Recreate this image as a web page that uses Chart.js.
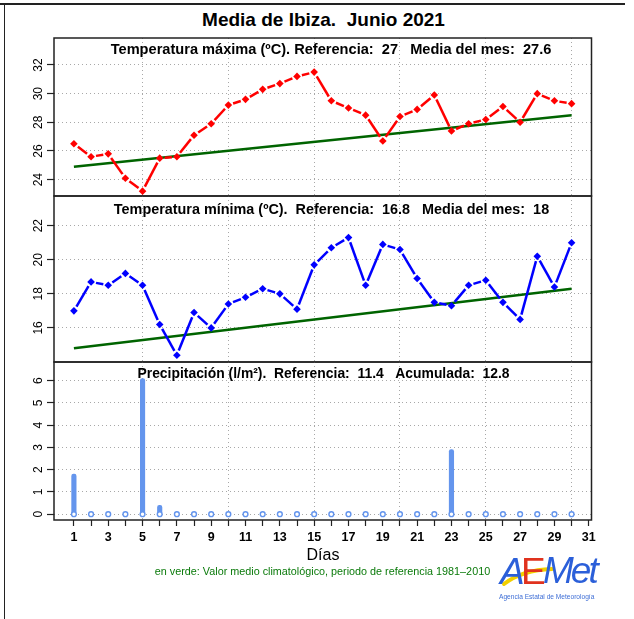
<!DOCTYPE html>
<html lang="es">
<head>
  <meta charset="UTF-8">
  <title>Media de Ibiza. Junio 2021</title>
  <style>
    body {
      margin: 0;
      background: #fff;
      font-family: "Liberation Sans", Arial, sans-serif;
      color: #000;
    }
    #page {
      position: relative;
      width: 634px;
      height: 619px;
      overflow: hidden;
    }
    .hline { position: absolute; left: 0; top: 3px; width: 625px; height: 1.5px; background: #222; }
    .vline { position: absolute; left: 3.5px; top: 3px; width: 1.5px; height: 620px; background: #222; }
    canvas { position: absolute; left: 0; }
    #title {
      position: absolute; top: 9px; left: 0; width: 647px;
      text-align: center; font-weight: bold; font-size: 19px; line-height: 22px;
    }
    #xlabel {
      position: absolute; top: 546px; left: 0; width: 646px;
      text-align: center; font-size: 16px; line-height: 18px;
    }
    #note {
      position: absolute; top: 565px; left: 0; width: 645px;
      text-align: center; font-size: 10.8px; line-height: 13px; color: #0a7a0a;
    }
    .logo { position: absolute; font-style: italic; font-size: 37px; line-height: 40px; }
    #logoSmall {
      position: absolute; left: 499px; top: 593px; font-size: 6.6px; color: #3f6fd6; white-space: nowrap;
    }
  </style>
  <script src="https://cdn.jsdelivr.net/npm/chart.js"></script>
</head>
<body>
<div id="page">
  <div class="hline"></div>
  <div class="vline"></div>
  <div id="title">Media de Ibiza.&nbsp; Junio 2021</div>
  <canvas id="cMax" width="634" height="170" style="top:30px"></canvas>
  <canvas id="cMin" width="634" height="180" style="top:190px"></canvas>
  <canvas id="cPre" width="634" height="200" style="top:355px"></canvas>
  <div id="xlabel">Días</div>
  <div id="note">en verde: Valor medio climatológico, periodo de referencia 1981–2010</div>
  <svg style="position:absolute;left:500px;top:560px" width="60" height="30">
    <path d="M4 24 Q22 10 52 9" stroke="#f2cf00" stroke-width="4" fill="none" stroke-linecap="round"/>
  </svg>
  <div class="logo" style="left:500px;top:552px;color:#2b5fd9">A</div>
  <div class="logo" style="left:521px;top:552px;color:#e0321e;font-style:normal">E</div>
  <div class="logo" style="left:543px;top:551px;color:#2b5fd9;letter-spacing:-3px">Met</div>
  <div id="logoSmall">Agencia Estatal de Meteorología</div>
</div>
<script>
  // days of the month
  const days = [1,2,3,4,5,6,7,8,9,10,11,12,13,14,15,16,17,18,19,20,21,22,23,24,25,26,27,28,29,30];
  // temperatura maxima (ºC)
  const tmax = [26.5,25.6,25.8,24.1,23.2,25.5,25.6,27.1,27.9,29.2,29.6,30.3,30.7,31.2,31.5,
                29.5,29.0,28.5,26.7,28.4,28.9,29.9,27.4,27.9,28.2,29.1,28.0,30.0,29.5,29.3];
  // temperatura minima (ºC)
  const tmin = [17.0,18.7,18.5,19.2,18.5,16.2,14.4,16.9,16.0,17.4,17.8,18.3,18.0,17.1,19.7,
                20.7,21.3,18.5,20.9,20.6,18.9,17.5,17.3,18.5,18.8,17.5,16.5,20.2,18.4,21.0];
  // precipitacion (l/m2)
  const precip = [1.8,0,0,0,6.1,0.4,0,0,0,0,0,0,0,0,0,0,0,0,0,0,0,0,2.9,0,0,0,0,0,0,0];
  // climatological reference (green lines), start and end of month
  const climaDays = [1, 30];
  const climaMax = [24.9, 28.5];
  const climaMin = [14.8, 18.3];
  // ticks
  const maxTicks = [24, 26, 28, 30, 32];
  const minTicks = [16, 18, 20, 22];
  const preTicks = [0, 1, 2, 3, 4, 5, 6];
  const gridDays = [5, 10, 15, 20, 25, 30];
  const tickDays = [1,2,3,4,5,6,7,8,9,10,11,12,13,14,15,16,17,18,19,20,21,22,23,24,25,26,27,28,29,30,31];

  const FONT = '"Liberation Sans", Arial, sans-serif';
  const GRID = '#a8a8a8';

  const pts = (xs, ys) => xs.map((x, i) => ({x: x, y: ys[i]}));

  // R type="b": line segments stop short of each point
  // (dash cycle is exactly the segment length so merged segments stay in phase)
  const gapDash = ctx => {
    const L = Math.hypot(ctx.p1.x - ctx.p0.x, ctx.p1.y - ctx.p0.y);
    const g = 5;
    if (L <= 2 * g) return [0, L];
    return [0, g, L - 2 * g, g];
  };

  const panelPlugin = {
    id: 'panel',
    afterDraw(chart, args, opts) {
      const {ctx, chartArea: a} = chart;
      const y = chart.scales.y;
      ctx.save();
      ctx.strokeStyle = '#222';
      ctx.lineWidth = 1.5;
      ctx.strokeRect(a.left, a.top, a.right - a.left, a.bottom - a.top);
      ctx.fillStyle = '#000';
      ctx.textAlign = 'center';
      ctx.textBaseline = 'middle';
      ctx.font = '12px ' + FONT;
      y.ticks.forEach(t => {
        ctx.save();
        ctx.translate(a.left - 15, y.getPixelForValue(t.value));
        ctx.rotate(-Math.PI / 2);
        ctx.fillText(String(t.value), 0, 0);
        ctx.restore();
      });
      ctx.font = 'bold ' + opts.size + 'px ' + FONT;
      ctx.fillText(opts.text, opts.cx, a.top + opts.dy);
      ctx.restore();
    }
  };

  function xScale(bottom) {
    const s = {
      type: 'linear', min: -0.16, max: 31.16, offset: false,
      afterBuildTicks: sc => { sc.ticks = (bottom ? tickDays : gridDays).map(v => ({value: v})); },
      grid: {
        offset: false, lineWidth: 1,
        color: c => (c.tick && c.tick.value % 5 === 0) ? GRID : 'rgba(0,0,0,0)',
        drawTicks: bottom, tickLength: 6, tickColor: '#222', tickWidth: 1.2, tickBorderDash: []
      },
      border: { display: false, dash: [1, 3] },
      ticks: { display: false }
    };
    if (bottom) {
      s.ticks = {
        display: true, autoSkip: false, maxRotation: 0, minRotation: 0, padding: 4,
        color: '#000', font: { family: FONT, size: 12.5, weight: 'bold' },
        callback: v => (v % 2 === 1 ? String(v) : '')
      };
      s.afterFit = sc => { sc.height = 35; };
    } else {
      s.afterFit = sc => { sc.height = 0; };
    }
    return s;
  }

  function yScale(min, max, ticks) {
    return {
      min: min, max: max,
      afterBuildTicks: sc => { sc.ticks = ticks.map(v => ({value: v})); },
      ticks: { display: false },
      grid: { color: GRID, lineWidth: 1, drawTicks: true, tickLength: 7, tickColor: '#222', tickWidth: 1.2, tickBorderDash: [] },
      border: { display: false, dash: [1, 3] },
      afterFit: sc => { sc.width = 54; }
    };
  }

  function baseOptions(pad, yS, bottom, title) {
    return {
      responsive: false,
      animation: false,
      layout: { padding: { left: 0, right: 42.5, top: pad[0], bottom: pad[1] } },
      plugins: { legend: { display: false }, tooltip: { enabled: false }, panel: title },
      scales: { x: xScale(bottom), y: yS }
    };
  }

  function tempChart(id, values, clima, color, yS, pad, title) {
    return new Chart(document.getElementById(id), {
      type: 'line',
      data: {
        datasets: [
          {
            data: pts(days, values),
            borderColor: color, borderWidth: 2.5,
            pointStyle: 'rectRot', pointRadius: 3.8, pointBorderWidth: 0,
            pointBackgroundColor: color,
            segment: { borderDash: gapDash }
          },
          {
            data: pts(climaDays, clima),
            borderColor: '#006400', borderWidth: 2.5, pointRadius: 0
          }
        ]
      },
      options: baseOptions(pad, yS, false, title),
      plugins: [panelPlugin]
    });
  }

  tempChart('cMax', tmax, climaMax, '#ff0000', yScale(22.86, 33.88, maxTicks), [8, 4],
    { text: 'Temperatura máxima (ºC). Referencia:  27   Media del mes:  27.6', cx: 331, dy: 12, size: 14.6 });

  tempChart('cMin', tmin, climaMin, '#0000ff', yScale(14.0, 23.74, minTicks), [6, 8],
    { text: 'Temperatura mínima (ºC).  Referencia:  16.8   Media del mes:  18', cx: 331.5, dy: 14, size: 14.4 });

  new Chart(document.getElementById('cPre'), {
    type: 'scatter',
    data: {
      datasets: [
        {
          type: 'scatter',
          data: pts(days, days.map(() => 0)),
          pointStyle: 'circle', pointRadius: 2.4, pointBorderWidth: 1.4,
          pointBorderColor: '#6495ed', pointBackgroundColor: '#ffffff'
        },
        {
          type: 'bar',
          data: pts(days, precip),
          backgroundColor: '#6495ed', barThickness: 4.5,
          borderRadius: 2.2, borderSkipped: false
        }
      ]
    },
    options: baseOptions([7, 0], yScale(-0.26, 6.84, preTicks), true,
      { text: 'Precipitación (l/m²).  Referencia:  11.4   Acumulada:  12.8', cx: 323.5, dy: 12, size: 13.9 }),
    plugins: [panelPlugin]
  });
</script>
</body>
</html>
